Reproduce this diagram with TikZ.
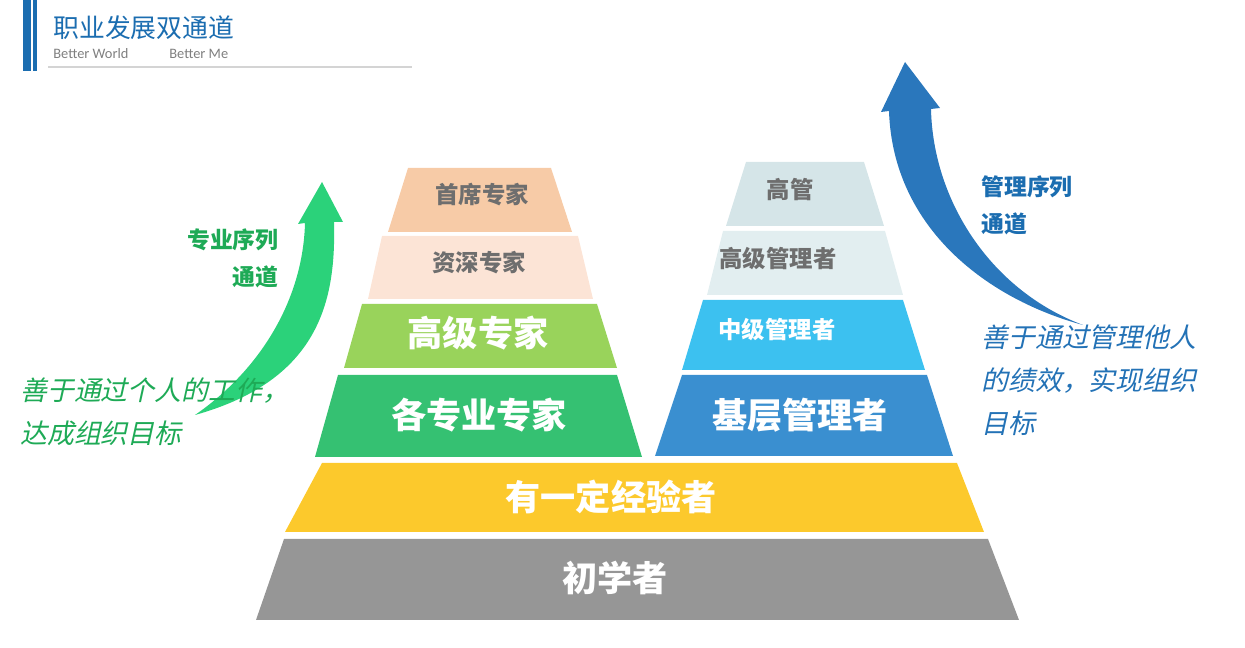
\documentclass[tikz,border=0pt]{standalone}
\usepackage{fontspec}
\setmainfont{Carlito}
\newfontfamily\cjk{Noto Sans CJK SC}
\newfontfamily\cjkslant{Noto Sans CJK SC}[FakeSlant=0.22]
\usetikzlibrary{positioning}

\definecolor{titleblue}{HTML}{1B6DB0}
\definecolor{subgray}{HTML}{7F7F7F}
\definecolor{rulegray}{HTML}{D4D4D4}
\definecolor{labelgray}{HTML}{6E6E6E}
\definecolor{chiefpeach}{HTML}{F7CBA7}
\definecolor{seniorpeach}{HTML}{FCE4D6}
\definecolor{expertlime}{HTML}{99D35B}
\definecolor{expertgreen}{HTML}{35C172}
\definecolor{execgray}{HTML}{D5E5E8}
\definecolor{seniorgray}{HTML}{E2EEF0}
\definecolor{midcyan}{HTML}{3CC1F0}
\definecolor{basicblue}{HTML}{3A8FD0}
\definecolor{expyellow}{HTML}{FCC92C}
\definecolor{novicegray}{HTML}{969696}
\definecolor{arrowgreen}{HTML}{2BD27A}
\definecolor{textgreen}{HTML}{1EAA56}
\definecolor{arrowblue}{HTML}{2A77BC}
\definecolor{textblue}{HTML}{2372B6}

\begin{document}
\begin{tikzpicture}[x=0.02cm, y=-0.02cm,
    biglabel/.style={font=\cjk\bfseries\fontsize{20pt}{22pt}\selectfont, text=white, inner sep=0pt},
    smalllabel/.style={font=\cjk\bfseries\fontsize{13.3pt}{15pt}\selectfont, text=labelgray, inner sep=0pt},
    channel/.style={font=\cjk\bfseries\fontsize{13pt}{21pt}\selectfont, inner sep=0pt},
    remark/.style={font=\cjkslant\fontsize{15.3pt}{24.4pt}\selectfont, inner sep=0pt, align=left, anchor=west},
    subtitle/.style={font=\fontsize{8.2pt}{10pt}\selectfont, text=subgray, inner sep=0pt, anchor=west}
]
    \useasboundingbox (0,0) rectangle (1245,648);

    % Header
    \fill[titleblue] (23,0) rectangle (31,71);
    \fill[titleblue] (33,0) rectangle (37,71);
    \draw[rulegray, line width=0.6pt] (48,67) -- (412,67);
    \node[font=\cjk\fontsize{14.7pt}{16pt}\selectfont, text=titleblue, inner sep=0pt, anchor=west] (title) at (53,28) {职业发展双通道};
    \node[subtitle] (world) at (53,54) {Better World};
    \node[subtitle] (me) at (169,54) {Better Me};

    % Arrows
    \fill[arrowgreen] (195,415) .. controls (320,380) and (336,300) .. (334,222)
        -- (343,222) -- (322,182) -- (298,224) -- (305,223)
        .. controls (303,300) and (260,370) .. (195,415) -- cycle;
    \fill[arrowblue] (1083,325) .. controls (990,290) and (933,200) .. (931,109)
        -- (940,108) -- (905,62) -- (881,112) -- (889,111)
        .. controls (893,230) and (990,300) .. (1083,325) -- cycle;

    % Expert pyramid
    \fill[chiefpeach] (408,168) -- (551,168) -- (572,232) -- (388,232) -- cycle;
    \fill[seniorpeach] (382,236) -- (578,236) -- (593,299) -- (368,299) -- cycle;
    \fill[expertlime] (362,304) -- (597,304) -- (617,368) -- (344,368) -- cycle;
    \fill[expertgreen] (338,375) -- (617,375) -- (642,457) -- (315,457) -- cycle;

    % Management pyramid
    \fill[execgray] (746,162) -- (864,162) -- (884,226) -- (726,226) -- cycle;
    \fill[seniorgray] (723,231) -- (885,231) -- (903,295) -- (707,295) -- cycle;
    \fill[midcyan] (703,300) -- (903,300) -- (925,370) -- (682,370) -- cycle;
    \fill[basicblue] (682,375) -- (927,375) -- (953,456) -- (655,456) -- cycle;

    % Common base
    \fill[expyellow] (322,463) -- (957,463) -- (984,532) -- (285,532) -- cycle;
    \fill[novicegray] (284,539) -- (988,539) -- (1019,620) -- (256,620) -- cycle;

    % Layer labels
    \node[smalllabel] (chief) at (482,195) {首席专家};
    \node[smalllabel] (senior) at (479,263) {资深专家};
    \node[biglabel] (advanced) at (478,333) {高级专家};
    \node[biglabel] (experts) at (479,415) {各专业专家};
    \node[smalllabel] (exec) at (790,190) {高管};
    \node[smalllabel] (seniormgr) at (778,259) {高级管理者};
    \node[smalllabel, text=white] (midmgr) at (777,330) {中级管理者};
    \node[biglabel] (basicmgr) at (800,415) {基层管理者};
    \node[biglabel] (experienced) at (611,497) {有一定经验者};
    \node[biglabel] (novice) at (615,578) {初学者};

    % Channel texts
    \node[channel, text=textgreen, align=right, anchor=east] (prochannel) at (279,258) {专业序列\\通道};
    \node[channel, text=titleblue, align=left, anchor=west] (mgrchannel) at (981,205) {管理序列\\通道};
    \node[remark, text=textgreen] (proremark) at (20,412) {善于通过个人的工作，\\达成组织目标};
    \node[remark, text=textblue] (mgrremark) at (981,380) {善于通过管理他人\\的绩效，实现组织\\目标};

\end{tikzpicture}
\end{document}
